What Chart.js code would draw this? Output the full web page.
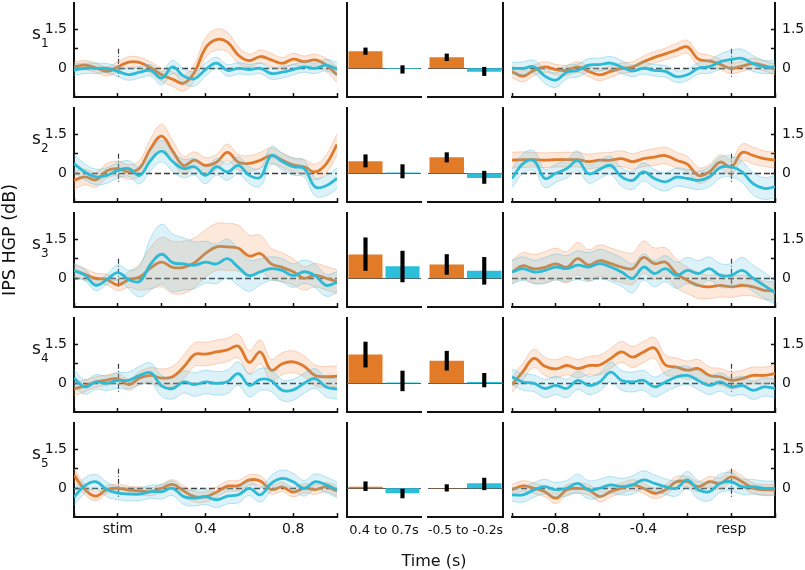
<!DOCTYPE html>
<html>
<head>
<meta charset="utf-8">
<script src="https://cdn.jsdelivr.net/npm/chart.js@4.4.1/dist/chart.umd.min.js"></script>
<style>
  html, body { margin: 0; padding: 0; background: #fff; }
  #fig { position: relative; width: 805px; height: 570px; overflow: hidden; font-family: 'DejaVu Sans', sans-serif; color: #111; }
  .panel { position: absolute; }
  .lbl { position: absolute; white-space: nowrap; line-height: 1; }
</style>
</head>
<body>
<div id="fig"></div>
<script>
// ---- data ----
const subjects = ['1', '2', '3', '4', '5'];
const stimTimes = [-0.2,-0.15,-0.1,-0.05,0,0.05,0.1,0.15,0.2,0.25,0.3,0.35,0.4,0.45,0.5,0.55,0.6,0.65,0.7,0.75,0.8,0.85,0.9,0.95,1.0];
const respTimes = [-1.0,-0.95,-0.9,-0.85,-0.8,-0.75,-0.7,-0.65,-0.6,-0.55,-0.5,-0.45,-0.4,-0.35,-0.3,-0.25,-0.2,-0.15,-0.1,-0.05,0,0.05,0.1,0.15,0.2];
const stimTicks = [-0.2, 0, 0.2, 0.4, 0.6, 0.8, 1.0];
const respTicks = [-1.0, -0.8, -0.6, -0.4, -0.2, 0, 0.2];
const stimTickLabels = { '0': 'stim', '0.4': '0.4', '0.8': '0.8' };
const respTickLabels = { '-0.8': '-0.8', '-0.4': '-0.4', '0': 'resp' };
const yTicks = [0, 0.75, 1.5];
const yTickLabels = { '0': '0', '1.5': '1.5' };
const windowLabels = ['0.4 to 0.7s', '-0.5 to -0.2s'];
const conditionNames = ['orange', 'blue'];

// stimulus-locked means (one array per subject)
const stimOrange = [
  [0.05,0.12,0.02,-0.12,0.05,0.24,0.22,0.02,-0.25,-0.42,-0.57,-0.15,0.78,1.1,1.0,0.5,0.29,0.45,0.32,0.19,0.35,0.25,0.32,0.13,-0.25],
  [-0.27,-0.14,-0.25,0.1,0.18,0.05,0.2,0.95,1.42,0.85,0.3,0.5,0.3,0.42,0.8,0.42,0.38,0.5,0.68,0.5,0.32,0.25,0.05,0.35,1.1],
  [0.3,0.15,0.0,-0.05,-0.25,-0.05,0.05,0.4,0.62,0.42,0.42,0.6,0.95,1.2,1.2,1.15,0.85,0.95,0.55,0.42,0.25,0.0,0.12,0.0,-0.12],
  [-0.22,-0.1,0.05,0.12,0.18,-0.05,0.2,0.3,0.2,0.25,0.62,1.1,1.12,1.2,1.28,1.42,0.8,1.2,0.5,0.75,0.82,0.65,0.3,0.25,0.27],
  [0.5,-0.05,-0.3,-0.05,0.0,-0.07,-0.1,-0.13,0.0,0.15,-0.1,-0.32,-0.32,-0.15,0.08,0.1,0.32,0.28,-0.05,0.05,-0.15,0.0,-0.05,0.05,-0.1]
];
const stimBlue = [
  [-0.06,0.0,0.0,0.0,-0.12,-0.24,-0.15,-0.08,-0.38,0.05,-0.3,-0.4,-0.05,0.2,-0.08,0.0,-0.05,0.0,-0.2,-0.15,-0.05,0.05,0.0,0.12,-0.03],
  [0.37,0.05,-0.14,-0.08,0.11,0.18,-0.08,0.5,0.85,0.45,0.18,0.25,-0.08,0.25,0.05,0.3,-0.08,-0.15,0.68,0.45,0.25,0.18,-0.52,-0.48,-0.2],
  [0.3,0.12,-0.27,-0.05,0.22,-0.05,-0.12,0.55,0.92,0.6,0.55,0.5,0.62,0.55,0.75,0.42,0.1,0.25,0.37,0.3,0.1,0.25,0.1,-0.27,-0.15],
  [0.2,-0.14,0.05,0.0,0.11,0.11,0.3,0.4,-0.1,-0.2,0.05,-0.05,0.05,0.0,0.06,0.37,-0.08,0.15,0.1,-0.27,-0.25,0.0,0.18,-0.14,-0.22],
  [-0.34,0.1,0.25,-0.05,-0.19,-0.22,-0.22,-0.13,-0.13,0.0,-0.32,-0.38,-0.32,-0.44,-0.3,-0.25,0.0,-0.25,0.19,0.38,0.25,0.0,0.25,0.13,-0.06]
];
const stimOrangeSem = [
  [0.18,0.18,0.18,0.18,0.2,0.2,0.2,0.22,0.25,0.28,0.3,0.32,0.38,0.4,0.38,0.32,0.25,0.25,0.25,0.22,0.22,0.22,0.22,0.25,0.3],
  [0.35,0.3,0.28,0.28,0.28,0.28,0.3,0.38,0.45,0.4,0.35,0.32,0.3,0.3,0.32,0.3,0.3,0.3,0.3,0.28,0.28,0.28,0.3,0.35,0.4],
  [0.25,0.22,0.2,0.2,0.22,0.3,0.5,0.8,0.95,1.0,1.0,0.95,0.9,0.9,0.9,0.88,0.8,0.7,0.6,0.55,0.5,0.45,0.45,0.45,0.45],
  [0.25,0.22,0.2,0.2,0.2,0.22,0.25,0.3,0.35,0.4,0.45,0.45,0.45,0.45,0.45,0.45,0.45,0.45,0.42,0.42,0.42,0.4,0.4,0.4,0.4],
  [0.25,0.2,0.18,0.15,0.15,0.15,0.15,0.15,0.15,0.18,0.2,0.2,0.2,0.2,0.2,0.2,0.2,0.2,0.18,0.18,0.18,0.18,0.18,0.18,0.2]
];
const stimBlueSem = [
  [0.22,0.2,0.2,0.18,0.2,0.22,0.22,0.22,0.25,0.25,0.28,0.28,0.25,0.22,0.22,0.22,0.2,0.2,0.22,0.22,0.2,0.2,0.2,0.22,0.25],
  [0.35,0.3,0.3,0.3,0.3,0.3,0.32,0.38,0.42,0.38,0.35,0.32,0.32,0.32,0.32,0.32,0.32,0.35,0.35,0.32,0.32,0.32,0.35,0.38,0.4],
  [0.25,0.22,0.2,0.2,0.3,0.35,0.6,1.0,1.15,1.1,1.0,0.9,0.8,0.75,0.75,0.7,0.6,0.5,0.45,0.45,0.45,0.45,0.45,0.42,0.4],
  [0.3,0.28,0.28,0.28,0.3,0.32,0.35,0.38,0.4,0.4,0.42,0.45,0.45,0.45,0.45,0.45,0.45,0.42,0.42,0.4,0.4,0.38,0.38,0.38,0.38],
  [0.3,0.3,0.28,0.28,0.25,0.25,0.25,0.25,0.28,0.28,0.3,0.3,0.3,0.3,0.3,0.3,0.28,0.28,0.3,0.32,0.32,0.3,0.3,0.3,0.3]
];

// response-locked means
const respOrange = [
  [-0.13,-0.3,-0.08,0.05,-0.05,-0.08,0.05,-0.12,-0.25,-0.12,0.0,0.05,0.25,0.42,0.55,0.7,0.82,0.35,0.28,0.15,0.0,0.08,0.18,0.1,-0.05],
  [0.5,0.52,0.52,0.5,0.52,0.52,0.52,0.45,0.5,0.5,0.56,0.45,0.56,0.62,0.68,0.5,0.35,-0.08,0.05,0.43,0.24,0.8,0.68,0.56,0.5],
  [0.24,0.48,0.36,0.42,0.55,0.42,0.75,0.5,0.68,0.56,0.43,0.37,0.8,0.56,0.62,0.18,-0.08,-0.27,-0.33,-0.27,-0.33,-0.27,-0.33,-0.46,-0.48],
  [-0.05,0.45,0.95,0.65,0.55,0.68,0.56,0.68,0.7,0.95,1.2,1.0,1.2,1.35,0.7,0.62,0.5,0.56,0.3,0.25,0.11,0.18,0.3,0.3,0.37],
  [-0.06,0.09,0.0,-0.13,-0.38,-0.06,0.0,-0.06,-0.32,-0.13,0.0,0.13,0.0,-0.19,-0.06,0.25,0.25,0.06,0.25,0.19,0.44,0.25,0.0,-0.06,-0.06]
];
const respBlue = [
  [0.0,0.0,0.06,-0.3,-0.45,-0.15,-0.08,0.12,0.14,0.2,0.05,-0.1,0.0,-0.08,-0.12,-0.32,-0.25,0.0,0.06,0.25,0.34,0.38,0.18,0.05,0.05],
  [-0.2,0.37,0.48,-0.2,0.0,0.18,0.48,-0.02,0.15,0.3,-0.14,-0.27,0.05,-0.2,-0.33,-0.15,-0.2,-0.27,-0.14,0.22,0.25,0.05,-0.4,-0.58,-0.52],
  [0.24,0.37,0.24,0.3,0.43,0.37,0.5,0.43,0.56,0.43,0.24,0.0,0.43,0.18,0.37,0.11,0.3,0.18,0.37,0.11,0.11,0.3,0.0,-0.27,-0.55],
  [0.24,0.05,0.0,-0.2,-0.08,-0.2,0.11,-0.08,0.05,0.43,0.11,0.05,0.11,-0.14,0.05,0.24,0.3,0.11,-0.08,0.05,-0.14,-0.08,-0.27,-0.14,-0.2],
  [-0.25,-0.25,-0.06,0.06,-0.06,0.0,0.19,-0.06,0.0,0.13,0.06,0.13,0.32,0.19,0.06,0.0,0.32,-0.06,-0.13,0.19,0.25,0.06,0.06,0.0,0.0]
];
const respOrangeSem = [
  [0.22,0.22,0.2,0.2,0.2,0.2,0.2,0.2,0.22,0.22,0.2,0.2,0.22,0.22,0.22,0.25,0.25,0.25,0.22,0.2,0.2,0.2,0.2,0.2,0.2],
  [0.3,0.3,0.28,0.28,0.28,0.28,0.28,0.28,0.28,0.3,0.3,0.3,0.3,0.32,0.32,0.3,0.3,0.3,0.28,0.28,0.3,0.32,0.32,0.3,0.3],
  [0.45,0.5,0.55,0.6,0.6,0.6,0.62,0.6,0.6,0.6,0.6,0.6,0.62,0.6,0.55,0.55,0.5,0.5,0.45,0.45,0.4,0.4,0.35,0.35,0.35],
  [0.3,0.32,0.35,0.35,0.35,0.35,0.35,0.35,0.38,0.38,0.4,0.4,0.4,0.4,0.38,0.35,0.35,0.35,0.32,0.32,0.32,0.32,0.32,0.32,0.32],
  [0.2,0.2,0.2,0.2,0.2,0.2,0.2,0.2,0.2,0.2,0.2,0.2,0.2,0.2,0.2,0.2,0.2,0.2,0.2,0.22,0.25,0.22,0.2,0.2,0.2]
];
const respBlueSem = [
  [0.22,0.25,0.25,0.28,0.28,0.25,0.25,0.25,0.25,0.25,0.25,0.22,0.22,0.22,0.22,0.22,0.22,0.22,0.25,0.3,0.35,0.35,0.3,0.25,0.25],
  [0.35,0.38,0.38,0.35,0.35,0.35,0.38,0.35,0.35,0.35,0.35,0.35,0.35,0.35,0.35,0.35,0.35,0.35,0.38,0.4,0.4,0.4,0.42,0.42,0.42],
  [0.45,0.45,0.45,0.5,0.5,0.5,0.55,0.55,0.55,0.55,0.55,0.55,0.5,0.5,0.5,0.5,0.5,0.5,0.45,0.45,0.45,0.5,0.5,0.5,0.45],
  [0.3,0.32,0.32,0.35,0.35,0.35,0.35,0.35,0.35,0.38,0.38,0.38,0.38,0.38,0.38,0.38,0.35,0.35,0.35,0.35,0.35,0.35,0.35,0.35,0.35],
  [0.25,0.28,0.28,0.28,0.28,0.3,0.35,0.35,0.35,0.32,0.32,0.35,0.35,0.32,0.3,0.3,0.32,0.35,0.35,0.35,0.35,0.3,0.28,0.28,0.28]
];

// window averages (bars) and their error bars, one value per subject
const lateOrange = [0.65, 0.46, 0.91, 1.1, 0.06];
const lateBlue = [-0.03, 0.03, 0.46, 0.03, -0.19];
const preOrange = [0.42, 0.61, 0.53, 0.86, 0.01];
const preBlue = [-0.13, -0.18, 0.29, 0.05, 0.19];
const lateOrangeErr = [[0.53, 0.78], [0.24, 0.71], [0.3, 1.55], [0.62, 1.58], [-0.09, 0.25]];
const lateBlueErr = [[-0.19, 0.1], [-0.18, 0.33], [-0.14, 1.04], [-0.29, 0.47], [-0.37, -0.03]];
const preOrangeErr = [[0.29, 0.55], [0.43, 0.79], [0.15, 0.91], [0.5, 1.23], [-0.11, 0.14]];
const preBlueErr = [[-0.28, 0.04], [-0.39, 0.08], [-0.23, 0.8], [-0.14, 0.38], [-0.06, 0.39]];

// ---- styling / layout ----
const Y_MIN = -1.1, Y_MAX = 2.5;
const eventSpan = [-0.35, 0.75];
const ORANGE = '#e0792a', BLUE = '#2dbad6';
const ORANGE_BAR = '#e27b28', BLUE_BAR = '#2bbfdc';
const ORANGE_FILL = 'rgba(244,150,95,0.22)', ORANGE_EDGE = 'rgba(240,150,100,0.5)';
const BLUE_FILL = 'rgba(95,195,225,0.22)', BLUE_EDGE = 'rgba(95,195,225,0.55)';
const INK = '#111';
const ROW0 = 3, ROW_STEP = 105, PLOT_H = 94, PAD_T = 6, PAD_B = 6, PAD_B_LAST = 48;

Chart.defaults.font.family = "'DejaVu Sans', sans-serif";
Chart.defaults.font.size = 14;
Chart.defaults.color = INK;
Chart.defaults.animation = false;

const fig = document.getElementById('fig');

function addCanvas(left, top, width, height) {
  const c = document.createElement('canvas');
  c.width = width; c.height = height;
  c.className = 'panel';
  c.style.left = left + 'px'; c.style.top = top + 'px';
  c.style.width = width + 'px'; c.style.height = height + 'px';
  fig.appendChild(c);
  return c;
}

function addText(html, left, top, size, extra) {
  const d = document.createElement('div');
  d.className = 'lbl';
  d.innerHTML = html;
  d.style.left = left + 'px'; d.style.top = top + 'px';
  d.style.fontSize = size + 'px';
  if (extra) Object.assign(d.style, extra);
  fig.appendChild(d);
}

// zero line + event marker, drawn through the chart's own scales
const refLines = {
  id: 'refLines',
  beforeDatasetsDraw(chart, args, opts) {
    const { ctx, chartArea: a, scales: { x, y } } = chart;
    const y0 = Math.round(y.getPixelForValue(0)) + 0.5;
    ctx.save();
    ctx.strokeStyle = opts.color;
    ctx.lineWidth = opts.width;
    ctx.setLineDash(opts.dash);
    ctx.beginPath(); ctx.moveTo(a.left, y0); ctx.lineTo(a.right, y0); ctx.stroke();
    if (opts.event) {
      const ex = Math.round(x.getPixelForValue(0)) + 0.5;
      ctx.setLineDash([5, 2, 1, 2]);
      ctx.lineWidth = 1.2;
      ctx.beginPath();
      ctx.moveTo(ex, y.getPixelForValue(eventSpan[1]));
      ctx.lineTo(ex, y.getPixelForValue(eventSpan[0]));
      ctx.stroke();
    }
    ctx.restore();
  }
};

const border = { display: true, width: 2, color: INK };
const tickGrid = { display: true, drawOnChartArea: false, drawTicks: true, tickLength: -4, tickWidth: 1.5, tickColor: INK };

function yAxis(position, width, showTicks) {
  return {
    position, min: Y_MIN, max: Y_MAX,
    afterBuildTicks: s => { s.ticks = yTicks.map(v => ({ value: v })); },
    afterFit: s => { s.width = width; s.paddingTop = 0; s.paddingBottom = 0; },
    border,
    grid: showTicks ? tickGrid : { display: false },
    ticks: { display: showTicks, padding: 11, font: { size: 14 }, callback: v => yTickLabels[String(v)] ?? '' }
  };
}

function bandSets(times, mean, sem, color, fill, edge, baseOrder) {
  const common = { pointRadius: 0, pointHoverRadius: 0, tension: 0.4 };
  return [
    { ...common, data: times.map((t, i) => ({ x: t, y: mean[i] - sem[i] })), borderColor: edge, borderWidth: 0.8, fill: false, order: baseOrder + 2 },
    { ...common, data: times.map((t, i) => ({ x: t, y: mean[i] + sem[i] })), borderColor: edge, borderWidth: 0.8, backgroundColor: fill, fill: '-1', order: baseOrder + 1 },
    { ...common, data: times.map((t, i) => ({ x: t, y: mean[i] })), borderColor: color, borderWidth: 2.8, fill: false, order: baseOrder }
  ];
}

// axisW: width of the y-axis box; edgePad: padding on the side without an axis
function timePanel(r, left, width, axisW, edgePad, side, times, ticksArr, tickLabels, oMean, oSem, bMean, bSem) {
  const last = r === subjects.length - 1;
  const padB = last ? PAD_B_LAST : PAD_B;
  const top = ROW0 + r * ROW_STEP - PAD_T;
  const canvas = addCanvas(left, top, width, PAD_T + PLOT_H + padB);
  const padding = side === 'left'
    ? { top: PAD_T, left: 0, right: edgePad, bottom: 0 }
    : { top: PAD_T, left: edgePad, right: 0, bottom: 0 };
  new Chart(canvas, {
    type: 'line',
    data: {
      datasets: [
        ...bandSets(times, oMean, oSem, ORANGE, ORANGE_FILL, ORANGE_EDGE, 4),
        ...bandSets(times, bMean, bSem, BLUE, BLUE_FILL, BLUE_EDGE, 1)
      ]
    },
    options: {
      responsive: false,
      layout: { padding },
      scales: {
        x: {
          type: 'linear', min: times[0], max: times[times.length - 1],
          afterBuildTicks: s => { s.ticks = ticksArr.map(v => ({ value: v })); },
          afterFit: s => { s.height = padB; s.paddingLeft = 0; s.paddingRight = 0; },
          border, grid: tickGrid,
          ticks: { display: last, padding: 8, maxRotation: 0, autoSkip: false, font: { size: 14 }, callback: v => tickLabels[String(v)] ?? '' }
        },
        y: yAxis(side, axisW, true)
      },
      plugins: {
        legend: { display: false }, tooltip: { enabled: false },
        refLines: { color: '#3a3a3a', width: 1.5, dash: [6, 3], event: true }
      }
    },
    plugins: [refLines]
  });
}

function barPanel(r, w, left, width, side, oVal, bVal, oErr, bErr) {
  const last = r === subjects.length - 1;
  const padB = last ? PAD_B_LAST : PAD_B;
  const top = ROW0 + r * ROW_STEP - PAD_T;
  const height = PAD_T + PLOT_H + padB;
  const canvas = addCanvas(left, top, width, height);
  new Chart(canvas, {
    type: 'bar',
    data: {
      labels: conditionNames,
      datasets: [
        { data: [oErr, bErr], backgroundColor: '#000', barThickness: 3.5, grouped: false, order: 0 },
        { data: [oVal, bVal], backgroundColor: [ORANGE_BAR, BLUE_BAR], barPercentage: 0.92, categoryPercentage: 1, grouped: false, order: 1 }
      ]
    },
    options: {
      responsive: false,
      layout: { padding: { top: PAD_T, left: 4, right: 4, bottom: 0 } },
      scales: {
        x: {
          afterFit: s => { s.height = padB; s.paddingLeft = 0; s.paddingRight = 0; },
          border, grid: { display: false }, ticks: { display: false },
          title: { display: last, text: windowLabels[w], font: { size: 13 }, padding: { top: 0, bottom: 27 } }
        },
        y: yAxis(side, 0, false)
      },
      plugins: {
        legend: { display: false }, tooltip: { enabled: false },
        refLines: { color: '#555', width: 1, dash: [], event: false }
      }
    },
    plugins: [refLines]
  });
}

subjects.forEach((s, r) => {
  // stimulus-locked: plot 74..337
  timePanel(r, 0, 341, 74, 4, 'left', stimTimes, stimTicks, stimTickLabels,
    stimOrange[r], stimOrangeSem[r], stimBlue[r], stimBlueSem[r]);
  // window bars: plots 347..421 and 428..503
  barPanel(r, 0, 343, 82, 'left', lateOrange[r], lateBlue[r], lateOrangeErr[r], lateBlueErr[r]);
  barPanel(r, 1, 424, 83, 'right', preOrange[r], preBlue[r], preOrangeErr[r], preBlueErr[r]);
  // response-locked: plot 512..775
  timePanel(r, 508, 297, 30, 4, 'right', respTimes, respTicks, respTickLabels,
    respOrange[r], respOrangeSem[r], respBlue[r], respBlueSem[r]);

  const rt = ROW0 + r * ROW_STEP;
  addText('s', 32, rt + 22, 17);
  addText(s, 41, rt + 34, 12);
});

addText('Time (s)', 434, 553, 16, { transform: 'translateX(-50%)' });
addText('IPS HGP (dB)', 10, 240, 17.5, { transform: 'translate(-50%, -50%) rotate(-90deg)' });
</script>
</body>
</html>
